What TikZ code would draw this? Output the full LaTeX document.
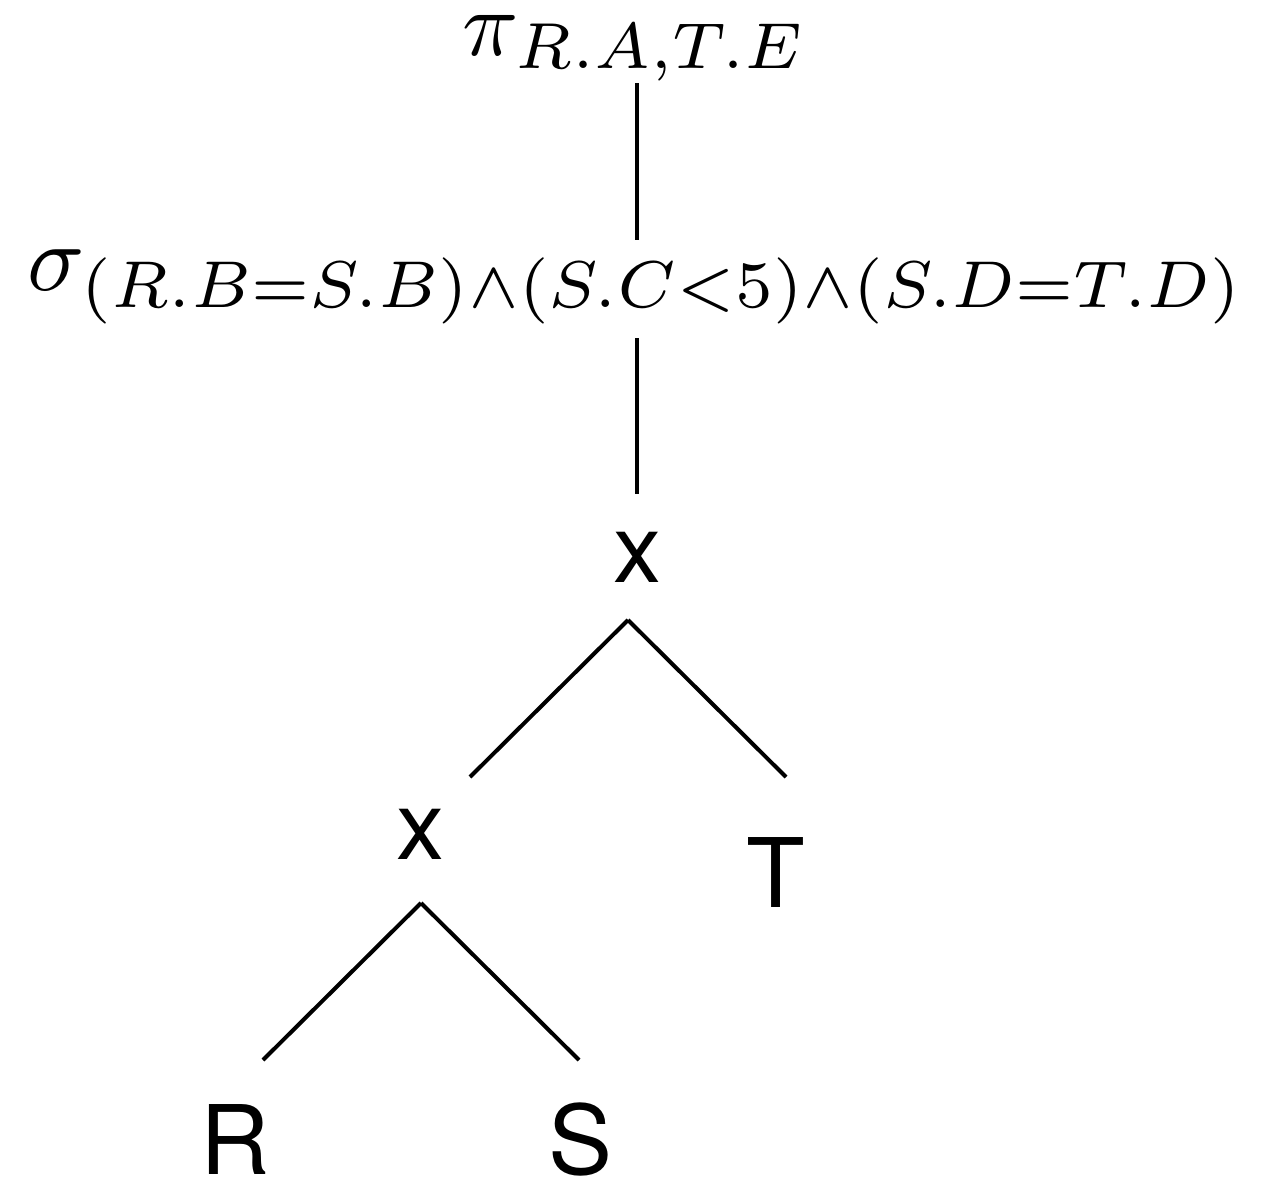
\documentclass[tikz,border=0pt]{standalone}
\usepackage{fontspec}
\setsansfont{TeX Gyre Heros}
\usepackage{graphicx}
\usetikzlibrary{calc}
\tikzset{
  lbl/.style={inner sep=0pt, anchor=base, font=\sffamily\fontsize{48}{56}\selectfont},
  mathlbl/.style={inner sep=0pt, anchor=base},
  edge/.style={line width=2pt, black}
}
\begin{document}
\begin{tikzpicture}[x=0.5pt, y=-0.5pt]
\useasboundingbox (0,0) rectangle (1266,1178);
\node[mathlbl] (pi) at (635,55) {\resizebox{172pt}{!}{$\pi_{R.A,T.E}$}};
\node[mathlbl] (sigma) at (636.5,290) {\resizebox{608.5pt}{!}{$\sigma_{(R.B=S.B)\wedge(S.C<5)\wedge(S.D=T.D)}$}};
\node[lbl] (x1) at (637,582) {x};
\node[lbl] (x2) at (420.5,859) {x};
\node[lbl] (t) at (776,907) {T};
\node[lbl] (r) at (235,1174) {R};
\node[lbl] (s) at (581,1174) {S};
\draw[edge] ($(pi.base)+(2,28)$) -- ($(sigma.base)+(0.5,-50)$);
\draw[edge] ($(sigma.base)+(0.5,48)$) -- ($(x1.base)+(0,-88)$);
\draw[edge] ($(x1.base)+(-9,38)$) -- ($(x2.base)+(49.5,-82)$);
\draw[edge] ($(x1.base)+(-9,38)$) -- ($(t.base)+(10,-130)$);
\draw[edge] ($(x2.base)+(0.5,44)$) -- ($(r.base)+(28,-114)$);
\draw[edge] ($(x2.base)+(0.5,44)$) -- ($(s.base)+(-2,-114)$);
\end{tikzpicture}
\end{document}
